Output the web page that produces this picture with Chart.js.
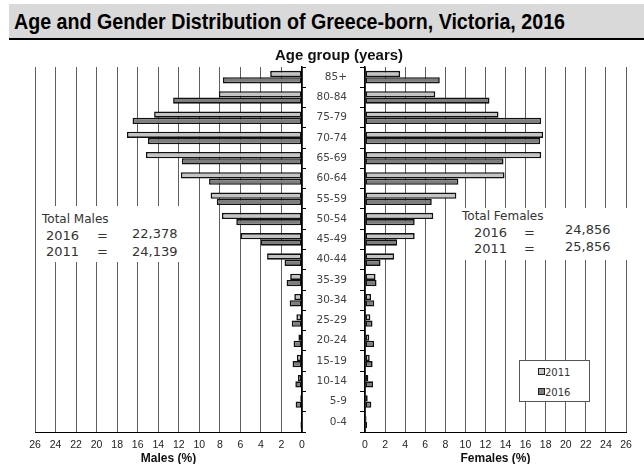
<!DOCTYPE html>
<html>
<head>
<meta charset="utf-8">
<script src="https://cdn.jsdelivr.net/npm/chart.js@4.4.0/dist/chart.umd.min.js"></script>
<style>
html,body{margin:0;padding:0;background:#fff;}
#wrap{position:relative;width:644px;height:464px;overflow:hidden;background:#fff;}
canvas{position:absolute;left:0;top:0;}
.t{position:absolute;white-space:nowrap;font-family:"DejaVu Sans",sans-serif;color:#333;line-height:1;}
#banner{position:absolute;left:9px;top:4px;width:635px;height:34px;background:#d9d9d9;border-bottom:2px solid #000;}
#title{position:absolute;left:14px;top:11px;white-space:nowrap;font-family:"Liberation Sans Narrow","Liberation Sans",Arial,sans-serif;font-weight:bold;font-size:22px;line-height:22px;color:#000;transform-origin:0 0;}
.wbox{position:absolute;background:#fff;}
#legend{position:absolute;left:519px;top:360px;width:69px;height:40px;border:1px solid #555;background:#fff;}
.sw{position:absolute;width:5px;height:5px;border:1px solid #222;}
</style>
</head>
<body>
<div id="wrap">
  <div id="banner"></div>
  <div id="title">Age and Gender Distribution of Greece-born, Victoria, 2016</div>
  <canvas id="cm" width="644" height="464"></canvas>
  <canvas id="cf" width="644" height="464"></canvas>
  <div class="t" id="agTitle" style="left:275px;top:47px;font-family:'Liberation Sans',Arial,sans-serif;font-weight:bold;font-size:15px;color:#111;"></div>

  <div class="wbox" style="left:38px;top:206px;width:152px;height:56px;"></div>
  <div class="t" id="mHead" style="left:42px;top:213px;font-size:12px;"></div>
  <div class="t" id="mY1" style="left:46px;top:229px;font-size:13px;"></div>
  <div class="t" style="left:97px;top:229px;font-size:13px;">=</div>
  <div class="t" id="mV1" style="left:132px;top:227px;font-size:13px;"></div>
  <div class="t" id="mY2" style="left:46px;top:245px;font-size:13px;"></div>
  <div class="t" style="left:97px;top:245px;font-size:13px;">=</div>
  <div class="t" id="mV2" style="left:132px;top:245px;font-size:13px;"></div>

  <div class="wbox" style="left:455px;top:208px;width:189px;height:52px;"></div>
  <div class="t" id="fHead" style="left:462px;top:210px;font-size:12px;"></div>
  <div class="t" id="fY1" style="left:474px;top:226px;font-size:13px;"></div>
  <div class="t" style="left:524px;top:226px;font-size:13px;">=</div>
  <div class="t" id="fV1" style="left:565px;top:223px;font-size:13px;"></div>
  <div class="t" id="fY2" style="left:474px;top:242px;font-size:13px;"></div>
  <div class="t" style="left:524px;top:242px;font-size:13px;">=</div>
  <div class="t" id="fV2" style="left:565px;top:240px;font-size:13px;"></div>

  <div id="legend">
    <div class="sw" id="sw1" style="left:18px;top:7px;"></div>
    <div class="t" id="lg1" style="left:25px;top:7px;font-size:10px;"></div>
    <div class="sw" id="sw2" style="left:18px;top:27px;"></div>
    <div class="t" id="lg2" style="left:25px;top:27px;font-size:10px;"></div>
  </div>
</div>
<script>
// ---------- data ----------
const ageGroups = ['85+','80-84','75-79','70-74','65-69','60-64','55-59','50-54','45-49','40-44','35-39','30-34','25-29','20-24','15-19','10-14','5-9','0-4'];
const seriesYears = ['2011','2016'];
const males2011   = [3.1, 8.1, 14.4, 17.05, 15.2, 11.8, 8.9, 7.8, 6.0, 3.4, 1.15, 0.75, 0.55, 0.35, 0.5, 0.4, 0.17, 0.05];
const males2016   = [7.7, 12.55, 16.5, 15.0, 11.7, 9.05, 8.3, 6.4, 4.0, 1.7, 1.5, 1.2, 1.0, 0.82, 0.92, 0.65, 0.62, 0.15];
const females2011 = [3.5, 7.0, 13.3, 17.75, 17.55, 13.9, 9.1, 6.8, 4.95, 2.9, 1.05, 0.6, 0.53, 0.43, 0.47, 0.33, 0.27, 0.15];
const females2016 = [7.45, 12.4, 17.55, 17.45, 13.8, 9.3, 6.65, 4.95, 3.2, 1.55, 1.15, 0.92, 0.75, 0.9, 0.76, 0.8, 0.63, 0.2];
const axisMax = 26;
const axisStep = 2;
const totalYears = ['2016','2011'];
const maleTotals = ['22,378','24,139'];
const femaleTotals = ['24,856','25,856'];
const axisLabels = {age:'Age group (years)', males:'Males (%)', females:'Females (%)'};
const totalHeads = {males:'Total Males', females:'Total Females'};

// ---------- styles ----------
const fill2011 = '#c4c4c4';
const fill2016 = '#7d7d7d';
const gridCol = '#5e5e5e';

// ---------- text ----------
document.getElementById('agTitle').textContent = axisLabels.age;
document.getElementById('mHead').textContent = totalHeads.males;
document.getElementById('fHead').textContent = totalHeads.females;
document.getElementById('mY1').textContent = totalYears[0];
document.getElementById('mY2').textContent = totalYears[1];
document.getElementById('fY1').textContent = totalYears[0];
document.getElementById('fY2').textContent = totalYears[1];
document.getElementById('mV1').textContent = maleTotals[0];
document.getElementById('mV2').textContent = maleTotals[1];
document.getElementById('fV1').textContent = femaleTotals[0];
document.getElementById('fV2').textContent = femaleTotals[1];
document.getElementById('lg1').textContent = seriesYears[0];
document.getElementById('lg2').textContent = seriesYears[1];
document.getElementById('sw1').style.background = fill2011;
document.getElementById('sw2').style.background = fill2016;

// fit title width
(function(){
  const el = document.getElementById('title');
  const w = el.getBoundingClientRect().width;
  el.style.transform = 'scaleX(' + (551 / w) + ')';
  const ag = document.getElementById('agTitle');
  const w2 = ag.getBoundingClientRect().width;
  ag.style.transform = 'scaleX(' + (128 / w2) + ')';
  ag.style.transformOrigin = '0 0';
})();

Chart.defaults.font.family = '"DejaVu Sans", sans-serif';

function datasets(a, b) {
  return [
    {label: seriesYears[0], data: a, backgroundColor: fill2011, borderColor: '#111', borderWidth: 1.6, borderSkipped: false, categoryPercentage: 0.62, barPercentage: 1.0},
    {label: seriesYears[1], data: b, backgroundColor: fill2016, borderColor: '#111', borderWidth: 1.6, borderSkipped: false, categoryPercentage: 0.62, barPercentage: 1.0}
  ];
}

function xScale(reverse, title) {
  return {
    type: 'linear', min: 0, max: axisMax, reverse: reverse,
    ticks: {stepSize: axisStep, color: '#222', font: {family: '"Liberation Sans", Arial, sans-serif', size: 10.5}, padding: 7, maxRotation: 0, autoSkip: false},
    grid: {color: gridCol, lineWidth: 1, drawTicks: false},
    border: {display: true, color: '#000', width: 1},
    title: {display: true, text: title, color: '#111', font: {family: '"Liberation Sans", Arial, sans-serif', weight: 'bold', size: 12}, padding: {top: 0, bottom: -2}},
    afterFit(s) { s.height = 32; }
  };
}

new Chart(document.getElementById('cm'), {
  type: 'bar',
  data: {labels: ageGroups, datasets: datasets(males2011, males2016)},
  options: {
    indexAxis: 'y', responsive: false, animation: false, devicePixelRatio: 1,
    layout: {padding: {left: 35, right: 342, top: 67, bottom: 0}},
    plugins: {legend: {display: false}, tooltip: {enabled: false}, title: {display: false}},
    scales: {
      x: xScale(true, axisLabels.males),
      y: {
        type: 'category', position: 'right', offset: true,
        ticks: {display: false},
        grid: {display: true, drawOnChartArea: false, drawTicks: true, tickLength: 4, color: '#000', offset: true},
        border: {display: true, color: '#000', width: 1.5},
        afterFit(s) { s.width = 0; }
      }
    }
  }
});

new Chart(document.getElementById('cf'), {
  type: 'bar',
  data: {labels: ageGroups, datasets: datasets(females2011, females2016)},
  options: {
    indexAxis: 'y', responsive: false, animation: false, devicePixelRatio: 1,
    layout: {padding: {left: 300, right: 18, top: 67, bottom: 0}},
    plugins: {legend: {display: false}, tooltip: {enabled: false}, title: {display: false}},
    scales: {
      x: xScale(false, axisLabels.females),
      y: {
        type: 'category', position: 'left', offset: true,
        ticks: {display: true, color: '#444', font: {size: 10.5}, padding: 13},
        grid: {display: true, drawOnChartArea: false, drawTicks: true, tickLength: 5, color: '#000', offset: true},
        border: {display: true, color: '#000', width: 1.5},
        afterFit(s) { s.width = 65; }
      }
    }
  }
});
</script>
</body>
</html>
